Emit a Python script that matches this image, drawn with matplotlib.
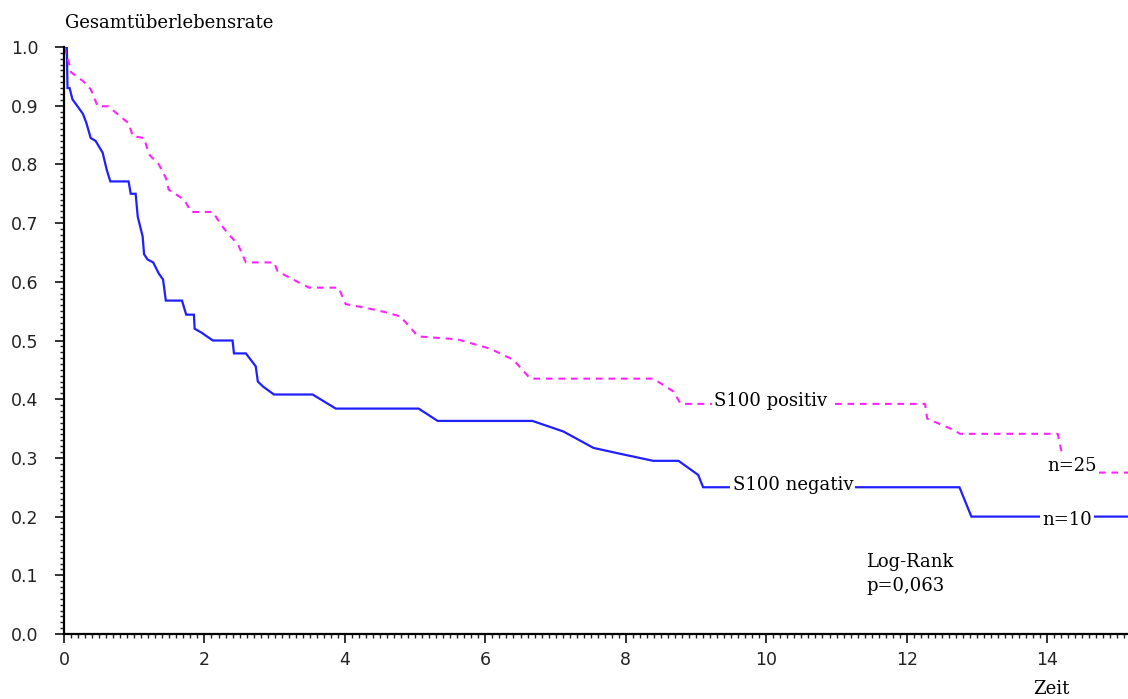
import matplotlib
matplotlib.use("Agg")
import matplotlib.pyplot as plt
from matplotlib.ticker import MultipleLocator, FormatStrFormatter

# S100 negativ (blue, solid)
neg_t = [0.0, 0.04, 0.05, 0.08, 0.12, 0.27, 0.32, 0.38, 0.45, 0.55, 0.61, 0.66, 0.92,
         0.95, 1.02, 1.05, 1.12, 1.14, 1.19, 1.27, 1.35, 1.41, 1.45, 1.68, 1.74, 1.85,
         1.86, 1.95, 2.12, 2.40, 2.42, 2.59, 2.73, 2.76, 2.84, 2.99, 3.54, 3.87, 5.05,
         5.32, 6.67, 7.11, 7.54, 7.92, 8.39, 8.75, 9.03, 9.10, 12.75, 12.92, 15.2]
neg_s = [1.0, 1.0, 0.93, 0.93, 0.911, 0.886, 0.87, 0.845, 0.84, 0.82, 0.79, 0.771, 0.771,
         0.75, 0.75, 0.711, 0.677, 0.647, 0.638, 0.633, 0.614, 0.604, 0.568, 0.568, 0.544,
         0.544, 0.52, 0.514, 0.50, 0.50, 0.478, 0.478, 0.456, 0.43, 0.421, 0.408, 0.408,
         0.384, 0.384, 0.363, 0.363, 0.345, 0.317, 0.307, 0.295, 0.295, 0.271, 0.25, 0.25,
         0.20, 0.20]

# S100 positiv (magenta, dashed)
pos_t = [0.0, 0.07, 0.10, 0.27, 0.38, 0.48, 0.63, 0.92, 0.98, 1.14, 1.21, 1.35, 1.45,
         1.49, 1.71, 1.81, 2.12, 2.23, 2.33, 2.48, 2.59, 2.99, 3.04, 3.26, 3.49, 3.91,
         4.01, 4.32, 4.55, 4.79, 5.04, 5.60, 6.07, 6.40, 6.64, 8.39, 8.68, 8.78, 12.26,
         12.29, 12.66, 12.76, 14.15, 14.21, 14.25, 15.2]
pos_s = [1.0, 0.973, 0.957, 0.942, 0.928, 0.899, 0.899, 0.87, 0.848, 0.845, 0.817, 0.80,
         0.777, 0.757, 0.74, 0.719, 0.719, 0.698, 0.683, 0.663, 0.633, 0.633, 0.618, 0.604,
         0.59, 0.59, 0.562, 0.555, 0.549, 0.541, 0.507, 0.502, 0.486, 0.467, 0.435, 0.435,
         0.413, 0.392, 0.392, 0.367, 0.348, 0.341, 0.341, 0.307, 0.275, 0.275]

x_ticks = [0, 2, 4, 6, 8, 10, 12, 14]
y_ticks = [0.0, 0.1, 0.2, 0.3, 0.4, 0.5, 0.6, 0.7, 0.8, 0.9, 1.0]

W, H = 1128, 699
fig = plt.figure(figsize=(W / 100, H / 100), dpi=100)
ax = fig.add_axes([64 / W, (H - 634) / H, 1 - 64 / W, (634 - 47) / H])

ax.plot(neg_t, neg_s, color="#1f1fff", lw=1.6, solid_joinstyle="miter")
ax.plot(pos_t, pos_s, color="#ff22ff", lw=1.5, linestyle=(0, (3.2, 2.8)))

ax.set_xlim(0, 15.15)
ax.set_ylim(0, 1.0)
for s in ["top", "right"]:
    ax.spines[s].set_visible(False)
ax.spines["left"].set_linewidth(1.6)
ax.spines["bottom"].set_linewidth(1.6)
ax.set_xticks(x_ticks)
ax.set_yticks(y_ticks)
ax.yaxis.set_major_formatter(FormatStrFormatter("%.1f"))
ax.xaxis.set_minor_locator(MultipleLocator(0.1))
ax.yaxis.set_minor_locator(MultipleLocator(0.01))
ax.tick_params(which="major", direction="out", length=6.5, width=1.3, labelsize=12.5,
               colors="#222222")
ax.tick_params(axis="y", which="major", pad=12)
ax.tick_params(axis="x", which="major", pad=6)
ax.tick_params(which="minor", direction="out", length=3, width=1.0, colors="#222222")
for lab in ax.get_xticklabels() + ax.get_yticklabels():
    lab.set_family("DejaVu Sans")

serif = "DejaVu Serif"
fs = 13
bbox = dict(facecolor="white", edgecolor="none", pad=1.5)
fig.text(65 / W, 1 - 28 / H, "Gesamtüberlebensrate", family=serif, fontsize=fs,
         ha="left", va="baseline")
fig.text(1033 / W, 1 - 694 / H, "Zeit", family=serif, fontsize=fs, ha="left", va="baseline")

ax.text(9.26, 0.388, "S100 positiv", family=serif, fontsize=fs, ha="left", va="baseline", bbox=bbox)
ax.text(9.52, 0.245, "S100 negativ", family=serif, fontsize=fs, ha="left", va="baseline", bbox=bbox)
ax.text(14.0, 0.277, "n=25", family=serif, fontsize=fs, ha="left", va="baseline", bbox=bbox)
ax.text(13.93, 0.186, "n=10", family=serif, fontsize=fs, ha="left", va="baseline", bbox=bbox)
ax.text(11.42, 0.114, "Log-Rank", family=serif, fontsize=fs, ha="left", va="baseline")
ax.text(11.42, 0.073, "p=0,063", family=serif, fontsize=fs, ha="left", va="baseline")

fig.savefig("out.png", dpi=100)
